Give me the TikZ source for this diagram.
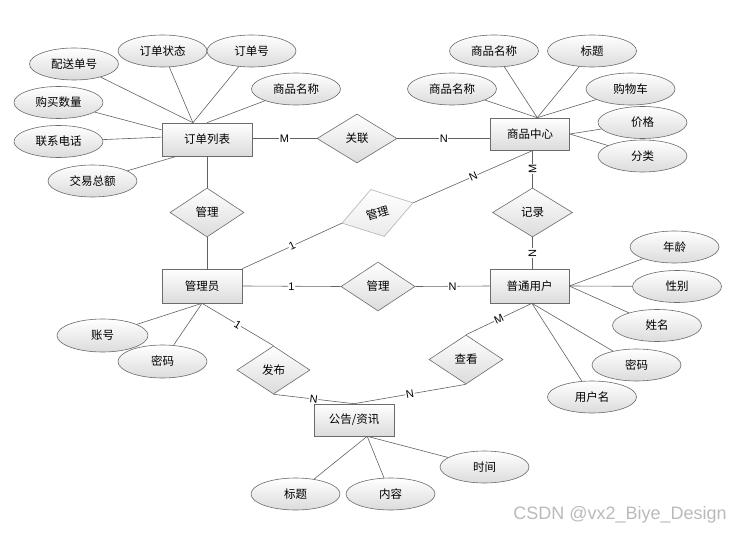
\documentclass[tikz,border=0pt]{standalone}
\usepackage{fontspec}
\setmainfont{Liberation Sans}
\newfontfamily\cjk{Noto Sans CJK SC}
\usetikzlibrary{shapes.geometric}
\begin{document}
\begin{tikzpicture}[x=1pt,y=-1pt,
  conn/.style={draw=black!62, line width=0.6pt},
  base/.style={draw=black!58, line width=0.6pt, top color=white, bottom color=black!14,
    font=\cjk\fontsize{11.5}{13}\selectfont, inner sep=0pt, text=black},
  ent/.style={base, rectangle, minimum width=80pt, minimum height=33pt},
  attr/.style={base, ellipse, minimum width=89pt, minimum height=32pt},
  rel/.style={base, diamond, minimum width=74pt, minimum height=49pt},
  card/.style={fill=white, inner sep=0.6pt, font=\fontsize{11}{12}\selectfont, sloped, pos=0.5}]
\useasboundingbox (0,0) rectangle (743,534);

% entities
\node[ent, minimum width=90pt] (order) at (207,139.5) {订单列表};
\node[ent, minimum width=79pt, minimum height=32pt] (prod) at (530,134) {商品中心};
\node[ent, minimum height=34pt] (admin) at (202,286) {管理员};
\node[ent, minimum width=79pt, minimum height=34pt] (user) at (529.5,286) {普通用户};
\node[ent, minimum height=32pt] (news) at (354,420) {公告/资讯};

% relationships
\node[rel, minimum width=80pt] (link) at (357,138.5) {关联};
\node[rel] (mgrA) at (207,212.5) {管理};
\node[rel, rotate=16, draw=black!30, bottom color=black!8] (mgrB) at (377.5,213) {管理};
\node[rel, minimum width=80pt] (rec) at (532.5,212.5) {记录};
\node[rel] (mgrC) at (378,286.5) {管理};
\node[rel, minimum width=73pt, minimum height=48pt] (pub) at (273.5,370) {发布};
\node[rel] (view) at (466,359.5) {查看};

% attributes of 订单列表
\node[attr] (a1) at (74,64) {配送单号};
\node[attr] (a2) at (162.5,51) {订单状态};
\node[attr] (a3) at (251.5,51) {订单号};
\node[attr] (a4) at (296,89) {商品名称};
\node[attr] (a5) at (58.5,102.5) {购买数量};
\node[attr] (a6) at (58.5,141.5) {联系电话};
\node[attr] (a7) at (92.5,181) {交易总额};

% attributes of 商品中心
\node[attr] (b1) at (494,51) {商品名称};
\node[attr] (b2) at (592,51) {标题};
\node[attr] (b3) at (452,89) {商品名称};
\node[attr] (b4) at (630.5,89) {购物车};
\node[attr] (b5) at (642.5,122.5) {价格};
\node[attr] (b6) at (642.5,156) {分类};

% attributes of 普通用户
\node[attr] (c1) at (674.5,247) {年龄};
\node[attr] (c2) at (677,286.5) {性别};
\node[attr] (c3) at (657,325.5) {姓名};
\node[attr] (c4) at (636.5,365) {密码};
\node[attr] (c5) at (592,397) {用户名};

% attributes of 管理员
\node[attr, minimum width=91pt, minimum height=33pt] (d1) at (102.5,335.5) {账号};
\node[attr, minimum height=33pt] (d2) at (162.5,361.5) {密码};

% attributes of 公告/资讯
\node[attr] (e1) at (295.5,494) {标题};
\node[attr] (e2) at (390.5,494) {内容};
\node[attr] (e3) at (484.5,467) {时间};

% attribute lines
\foreach \a in {a1,a2,a3} \draw[conn] (\a) -- (order.130);
\draw[conn] (a4) -- (order.north);
\draw[conn] (a5) -- (order.168);
\draw[conn] (a6) -- (order.177);
\draw[conn] (a7) -- (order.209);
\foreach \a in {b1,b2,b3,b4} \draw[conn] (\a) -- (prod.66);
\foreach \a in {b5,b6} \draw[conn] (\a) -- (prod.east);
\foreach \a in {c1,c2,c3} \draw[conn] (\a) -- (user.east);
\foreach \a in {c4,c5} \draw[conn] (\a) -- (user.278);
\foreach \a in {d1,d2} \draw[conn] (\a) -- (admin.south);
\foreach \a in {e1,e2,e3} \draw[conn] (\a) -- (news.309);

% relationship lines with cardinalities
\draw[conn] (order.east |- link.west) -- node[card] {M} (link.west);
\draw[conn] (link.east) -- node[card] {N} (link.east -| prod.west);
\draw[conn] (mgrA.north) -- (mgrA.north |- order.south);
\draw[conn] (mgrA.south) -- (mgrA.south |- admin.north);
\draw[conn] (admin.north east) -- node[card] {1} (mgrB.west);
\draw[conn] (mgrB.east) -- node[card] {N} (prod.281);
\draw[conn] (rec.north) -- node[card] {M} (rec.north |- prod.south);
\draw[conn] (rec.south) -- node[card] {N} (rec.south |- user.north);
\draw[conn] (admin.east) -- node[card] {1} (mgrC.west);
\draw[conn] (mgrC.east) -- node[card] {N} (user.west);
\draw[conn] (admin.south) -- node[card] {1} (pub.north);
\draw[conn] (pub.south) -- node[card] {N} (news.north);
\draw[conn] (view.south) -- node[card] {N} (news.north);
\draw[conn] (view.north) -- node[card] {M} (user.278);

% watermark
\node[text=black!27, font=\fontsize{18}{20}\selectfont, inner sep=0pt] (wm) at (620,515) {CSDN @vx2\_Biye\_Design};
\end{tikzpicture}
\end{document}
